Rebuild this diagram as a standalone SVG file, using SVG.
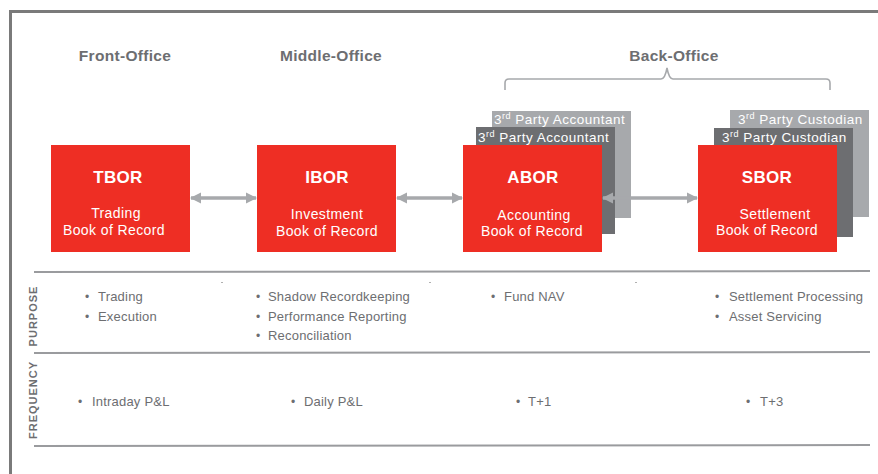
<svg xmlns="http://www.w3.org/2000/svg" width="878" height="474" viewBox="0 0 878 474">
<defs>
<style>
.hdr{font-family:"Liberation Sans",Arial,sans-serif;font-weight:bold;font-size:15.5px;fill:#6d6e71;text-anchor:middle;letter-spacing:0.3px}
.box{fill:#ee2e24}
.dark{fill:#6d6e71}
.light{fill:#a7a9ac}
.t1{font-family:"Liberation Sans",Arial,sans-serif;font-weight:bold;font-size:17px;fill:#fff;text-anchor:middle;letter-spacing:0.3px}
.t2{font-family:"Liberation Sans",Arial,sans-serif;font-size:14px;fill:#fff;text-anchor:middle;letter-spacing:0.4px}
.lay{font-family:"Liberation Sans",Arial,sans-serif;font-size:13.5px;fill:#fff;letter-spacing:0.5px}
.bul{font-family:"Liberation Sans",Arial,sans-serif;font-size:13px;fill:#6d6e71;letter-spacing:0.2px}
.dot{font-family:"Liberation Sans",Arial,sans-serif;font-size:12px;fill:#6d6e71}
.side{font-family:"Liberation Sans",Arial,sans-serif;font-weight:bold;font-size:11px;fill:#6d6e71;text-anchor:middle;letter-spacing:1px}
.rule{stroke:#9a9b9e;stroke-width:2;fill:none}
.conn{stroke:#a7a9ac;stroke-width:3.5;fill:none}
</style>
<marker id="ah" viewBox="0 0 10 10" refX="9" refY="5" markerWidth="3.2" markerHeight="3.2" orient="auto-start-reverse" markerUnits="strokeWidth">
<path d="M0,0 L10,5 L0,10 z" fill="#a7a9ac"/>
</marker>
</defs>
<rect width="878" height="474" fill="#fff"/>
<path d="M10.5,474 V11.5 H878" stroke="#7a7a7a" stroke-width="3" fill="none"/>

<g id="headers">
<text class="hdr" x="125" y="61">Front-Office</text>
<text class="hdr" x="331" y="61">Middle-Office</text>
<text class="hdr" x="674" y="61">Back-Office</text>
<path d="M505,90 V83 Q505,79 509,79 H661 Q665,79 667,68 Q669,79 673,79 H826 Q830,79 830,83 V90" stroke="#a7a9ac" stroke-width="1.6" fill="none"/>
</g>

<g id="tbor">
<rect class="box" x="51" y="145" width="139" height="107"/>
<text class="t1" x="118" y="183">TBOR</text>
<text class="t2" x="116" y="218">Trading</text>
<text class="t2" x="114" y="235">Book of Record</text>
</g>

<g id="ibor">
<rect class="box" x="257" y="145" width="139" height="107"/>
<text class="t1" x="327" y="183">IBOR</text>
<text class="t2" x="327" y="219">Investment</text>
<text class="t2" x="327" y="236">Book of Record</text>
</g>

<g id="abor">
<rect class="light" x="492" y="111" width="139" height="107"/>
<text class="lay" x="494" y="124">3<tspan font-size="9" dy="-5">rd</tspan><tspan dy="5"> Party Accountant</tspan></text>
<rect class="dark" x="476" y="127" width="139" height="107"/>
<text class="lay" x="478" y="142">3<tspan font-size="9" dy="-5">rd</tspan><tspan dy="5"> Party Accountant</tspan></text>
<rect class="box" x="463" y="145" width="139" height="107"/>
<text class="t1" x="533" y="183">ABOR</text>
<text class="t2" x="534" y="220">Accounting</text>
<text class="t2" x="532" y="236">Book of Record</text>
</g>

<g id="sbor">
<rect class="light" x="730" y="110" width="139" height="107"/>
<text class="lay" x="738" y="124">3<tspan font-size="9" dy="-5">rd</tspan><tspan dy="5"> Party Custodian</tspan></text>
<rect class="dark" x="714" y="128" width="139" height="109"/>
<text class="lay" x="722" y="142">3<tspan font-size="9" dy="-5">rd</tspan><tspan dy="5"> Party Custodian</tspan></text>
<rect class="box" x="698" y="145" width="139" height="107"/>
<text class="t1" x="767" y="183">SBOR</text>
<text class="t2" x="775" y="219">Settlement</text>
<text class="t2" x="767" y="235">Book of Record</text>
</g>

<g id="connectors">
<line class="conn" x1="191" y1="198" x2="256" y2="198" marker-start="url(#ah)" marker-end="url(#ah)"/>
<line class="conn" x1="397" y1="198" x2="462" y2="198" marker-start="url(#ah)" marker-end="url(#ah)"/>
<line class="conn" x1="603" y1="198" x2="697" y2="198" marker-start="url(#ah)" marker-end="url(#ah)"/>
</g>

<g id="table">
<line class="rule" x1="34" y1="272" x2="870" y2="271"/>
<line class="rule" x1="34" y1="353" x2="870" y2="352"/>
<line class="rule" x1="34" y1="446" x2="870" y2="445"/>
<rect x="221" y="282" width="2" height="1" fill="#b0b0b0"/>
<rect x="429" y="282" width="2" height="1" fill="#b0b0b0"/>
<rect x="635" y="282" width="2" height="1" fill="#b0b0b0"/>
<text class="side" transform="translate(37,316) rotate(-90)">PURPOSE</text>
<text class="side" transform="translate(37,400) rotate(-90)">FREQUENCY</text>
</g>

<g id="purpose">
<text class="dot" x="85" y="301">•</text><text class="bul" x="98" y="301">Trading</text>
<text class="dot" x="85" y="321">•</text><text class="bul" x="98" y="321">Execution</text>
<text class="dot" x="256" y="301">•</text><text class="bul" x="268" y="301">Shadow Recordkeeping</text>
<text class="dot" x="256" y="321">•</text><text class="bul" x="268" y="321">Performance Reporting</text>
<text class="dot" x="256" y="340">•</text><text class="bul" x="268" y="340">Reconciliation</text>
<text class="dot" x="491" y="301">•</text><text class="bul" x="504" y="301">Fund NAV</text>
<text class="dot" x="715" y="301">•</text><text class="bul" x="729" y="301">Settlement Processing</text>
<text class="dot" x="715" y="321">•</text><text class="bul" x="729" y="321">Asset Servicing</text>
</g>

<g id="frequency">
<text class="dot" x="78" y="406">•</text><text class="bul" x="92" y="406">Intraday P&amp;L</text>
<text class="dot" x="291" y="406">•</text><text class="bul" x="304" y="406">Daily P&amp;L</text>
<text class="dot" x="516" y="406">•</text><text class="bul" x="528" y="406">T+1</text>
<text class="dot" x="746" y="406">•</text><text class="bul" x="760" y="406">T+3</text>
</g>
</svg>
